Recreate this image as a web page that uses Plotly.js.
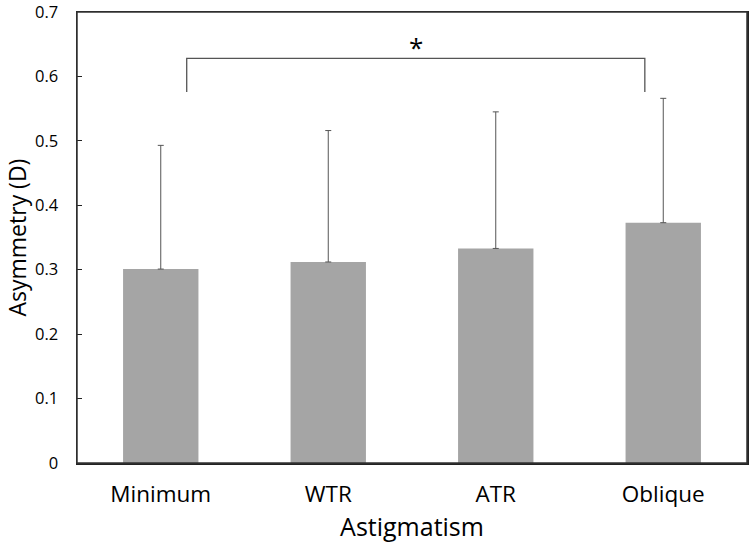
<!DOCTYPE html>
<html>
<head>
<meta charset="utf-8">
<script src="https://cdn.plot.ly/plotly-3.0.1.min.js"></script>
<style>html,body{margin:0;padding:0;background:#fff}#chart{width:749px;height:550px}</style>
</head>
<body>
<div id="chart"></div>
<script>
const categories = ["Minimum", "WTR", "ATR", "Oblique"];
const means = [0.301, 0.312, 0.333, 0.373];
const sds = [0.192, 0.204, 0.212, 0.193];
const yTicks = [0, 0.1, 0.2, 0.3, 0.4, 0.5, 0.6, 0.7];
const yTickLabels = ["0", "0.1", "0.2", "0.3", "0.4", "0.5", "0.6", "0.7"];
const yTitle = "Asymmetry (D)";
const xTitle = "Astigmatism";
const bracket = {x0: 0.155, x1: 2.89, yLow: 0.576, yHigh: 0.628, label: "*"};

const font = "'Open Sans', 'Noto Sans', sans-serif";

const trace = {
  type: "bar",
  x: categories,
  y: means,
  width: 0.45,
  marker: {color: "#a5a5a5", line: {width: 0}},
  error_y: {
    type: "data",
    symmetric: false,
    array: sds,
    arrayminus: means.map(() => 0),
    color: "#555555",
    thickness: 1,
    width: 3
  },
  hoverinfo: "skip"
};

const layout = {
  width: 749,
  height: 550,
  margin: {l: 77, r: 2, t: 12, b: 87},
  paper_bgcolor: "#ffffff",
  plot_bgcolor: "#ffffff",
  showlegend: false,
  font: {family: font, color: "#000"},
  xaxis: {
    type: "category",
    range: [-0.5, 3.5],
    showline: true,
    linecolor: "#222",
    linewidth: 1.5,
    mirror: true,
    ticks: "",
    showgrid: false,
    zeroline: false,
    ticklabelstandoff: 10,
    tickfont: {size: 22.5, family: font, color: "#000"},
    title: {text: xTitle, font: {size: 25, family: font, color: "#000"}, standoff: 6}
  },
  yaxis: {
    range: [0, 0.7],
    tickvals: yTicks,
    ticktext: yTickLabels,
    showline: true,
    linecolor: "#222",
    linewidth: 1.5,
    mirror: true,
    ticks: "inside",
    ticklen: 5,
    tickcolor: "#222",
    showgrid: false,
    zeroline: false,
    ticklabelstandoff: 14,
    ticklabeloverflow: "allow",
    tickfont: {size: 16.5, family: font, color: "#000"}
  },
  shapes: [
    {type: "rect", xref: "paper", yref: "paper", x0: 0, x1: 1, y0: 0, y1: 1,
     line: {color: "#333333", width: 1.5}, fillcolor: "rgba(0,0,0,0)", layer: "above"},
    {type: "path", xref: "x", yref: "y",
     path: `M ${bracket.x0},${bracket.yLow} L ${bracket.x0},${bracket.yHigh} L ${bracket.x1},${bracket.yHigh} L ${bracket.x1},${bracket.yLow}`,
     line: {color: "#555555", width: 1.3}}
  ],
  annotations: [
    {x: (bracket.x0 + bracket.x1) / 2, y: bracket.yHigh, xref: "x", yref: "y",
     text: bracket.label, showarrow: false, yanchor: "bottom", yshift: -9,
     font: {size: 26, family: font, color: "#000"}},
    {x: 0, y: 0.5, xref: "paper", yref: "paper", xanchor: "center", yanchor: "middle",
     xshift: -61, textangle: -90, text: yTitle, showarrow: false,
     font: {size: 23, family: font, color: "#000"}}
  ]
};

Plotly.newPlot("chart", [trace], layout, {displayModeBar: false, staticPlot: true});
</script>
</body>
</html>
